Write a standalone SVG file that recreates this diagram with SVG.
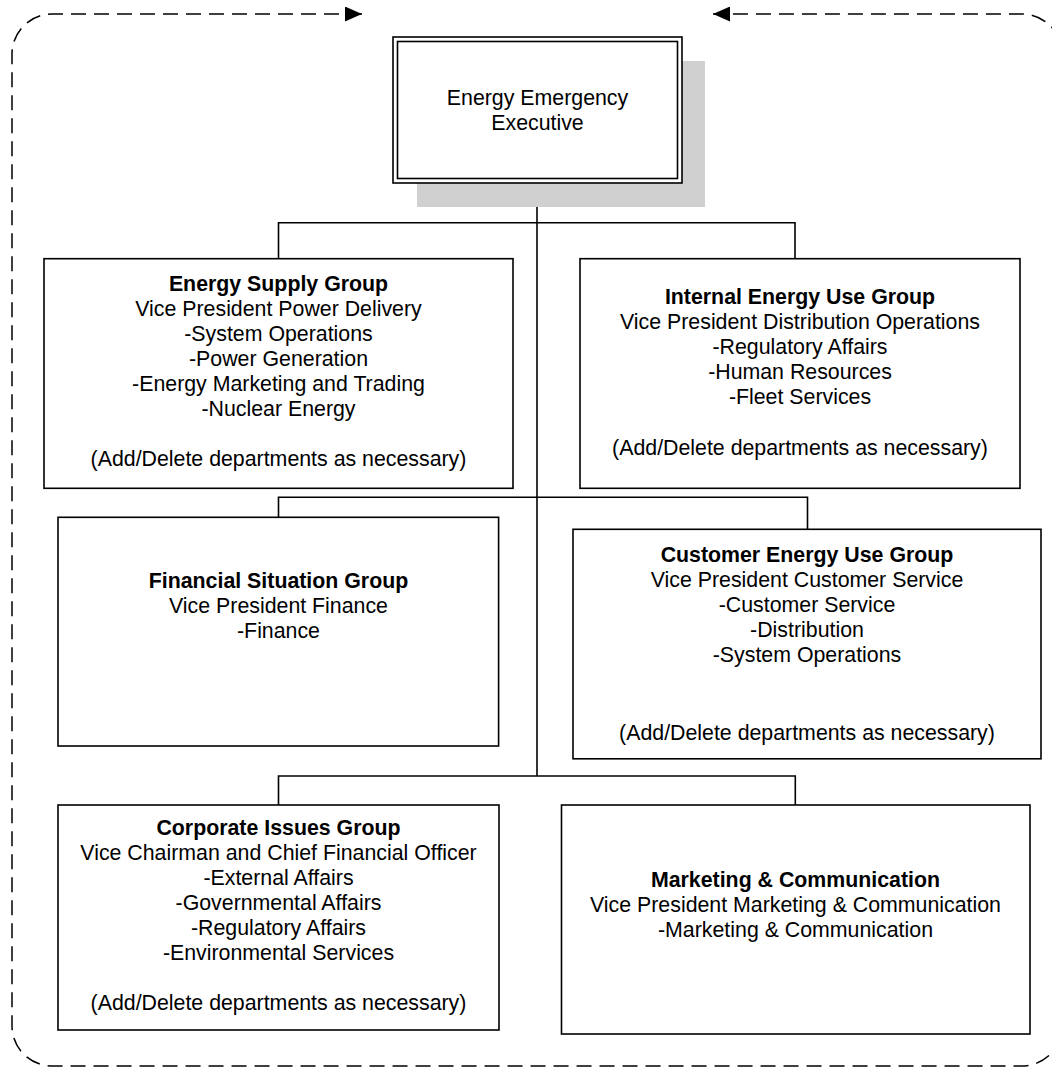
<svg xmlns="http://www.w3.org/2000/svg" width="1052" height="1068" viewBox="0 0 1052 1068">
<style>
text{font-family:"Liberation Sans",Arial,sans-serif;font-size:21.33px;fill:#000;text-anchor:middle}
.t{font-weight:bold}
.box{fill:#fff;stroke:#000;stroke-width:1.6}
.conn{fill:none;stroke:#000;stroke-width:1.6}
.loop{fill:none;stroke:#000;stroke-width:1.5;stroke-dasharray:15 8}
</style>
<defs>
<marker id="arr" viewBox="0 0 10 10" refX="10" refY="5" markerUnits="userSpaceOnUse" markerWidth="17" markerHeight="15" preserveAspectRatio="none" orient="auto-start-reverse">
<path d="M0,0 L10,5 L0,10 z" fill="#000"/>
</marker>
</defs>
<rect width="1052" height="1068" fill="#fff"/>
<g id="feedback-loop">
<path class="loop" d="M362,14 H52 A40,40 0 0 0 12,54 V1026 A40,40 0 0 0 52,1066 H1022 A40,40 0 0 0 1062,1026 V54 A40,40 0 0 0 1022,14 H713" marker-start="url(#arr)" marker-end="url(#arr)"/>
</g>
<g id="connectors">
<path class="conn" d="M537,183 V776"/>
<path class="conn" d="M278.5,258.7 V222.7 H795 V258.7"/>
<path class="conn" d="M278.5,517.3 V497.3 H807.5 V529.3"/>
<path class="conn" d="M278.5,805 V776 H795.3 V805"/>
</g>
<g id="executive">
<rect x="417" y="61" width="288" height="146" fill="#d0d0d0"/>
<rect class="box" x="393" y="37" width="289" height="146"/>
<rect x="397.5" y="41.5" width="280" height="137" fill="none" stroke="#000" stroke-width="1.6"/>
<text x="537.5" y="105">Energy Emergency</text>
<text x="537.5" y="130">Executive</text>
</g>
<g id="energy-supply">
<rect class="box" x="44" y="258.7" width="469" height="229.6"/>
<text class="t" x="278.5" y="291">Energy Supply Group</text>
<text x="278.5" y="316">Vice President Power Delivery</text>
<text x="278.5" y="341">-System Operations</text>
<text x="278.5" y="366">-Power Generation</text>
<text x="278.5" y="391">-Energy Marketing and Trading</text>
<text x="278.5" y="416">-Nuclear Energy</text>
<text x="278.5" y="466">(Add/Delete departments as necessary)</text>
</g>
<g id="internal-energy">
<rect class="box" x="580" y="258.7" width="440" height="229.6"/>
<text class="t" x="800" y="304">Internal Energy Use Group</text>
<text x="800" y="329">Vice President Distribution Operations</text>
<text x="800" y="354">-Regulatory Affairs</text>
<text x="800" y="379">-Human Resources</text>
<text x="800" y="404">-Fleet Services</text>
<text x="800" y="455">(Add/Delete departments as necessary)</text>
</g>
<g id="financial">
<rect class="box" x="58" y="517.3" width="440.6" height="228.7"/>
<text class="t" x="278.5" y="588">Financial Situation Group</text>
<text x="278.5" y="613">Vice President Finance</text>
<text x="278.5" y="638">-Finance</text>
</g>
<g id="customer-energy">
<rect class="box" x="573" y="529.3" width="468" height="229.5"/>
<text class="t" x="807" y="562">Customer Energy Use Group</text>
<text x="807" y="587">Vice President Customer Service</text>
<text x="807" y="612">-Customer Service</text>
<text x="807" y="637">-Distribution</text>
<text x="807" y="662">-System Operations</text>
<text x="807" y="740">(Add/Delete departments as necessary)</text>
</g>
<g id="corporate">
<rect class="box" x="58" y="805" width="441" height="225"/>
<text class="t" x="278.5" y="835">Corporate Issues Group</text>
<text x="278.5" y="860">Vice Chairman and Chief Financial Officer</text>
<text x="278.5" y="885">-External Affairs</text>
<text x="278.5" y="910">-Governmental Affairs</text>
<text x="278.5" y="935">-Regulatory Affairs</text>
<text x="278.5" y="960">-Environmental Services</text>
<text x="278.5" y="1010">(Add/Delete departments as necessary)</text>
</g>
<g id="marketing">
<rect class="box" x="561.5" y="805" width="468.5" height="229"/>
<text class="t" x="795.5" y="887">Marketing &amp; Communication</text>
<text x="795.5" y="912">Vice President Marketing &amp; Communication</text>
<text x="795.5" y="937">-Marketing &amp; Communication</text>
</g>
</svg>
